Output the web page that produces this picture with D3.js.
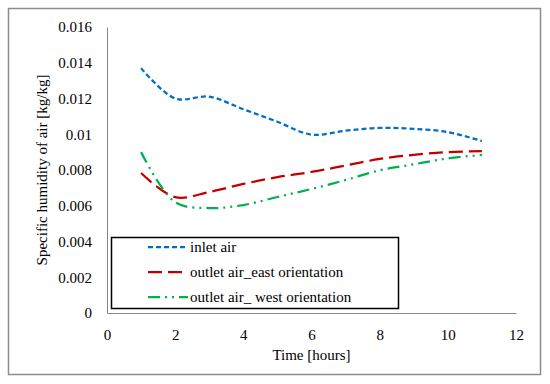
<!DOCTYPE html>
<html>
<head>
<meta charset="utf-8">
<script src="https://cdn.jsdelivr.net/npm/d3@7"></script>
<style>
  body { margin: 0; background: #fff; }
  svg text { font-family: "Liberation Serif", "Times New Roman", Times, "DejaVu Serif", serif !important; fill: #000; }
</style>
</head>
<body>
<div id="chart"></div>
<script>
'use strict'

const hours = [1, 2, 3, 4, 5, 6, 7, 8, 9, 10, 11]
const inletAir = [0.0137, 0.0120, 0.0121, 0.0114, 0.0107, 0.00998, 0.0102, 0.01035, 0.0103, 0.01012, 0.00962]
const outletEast = [0.00783, 0.00648, 0.00677, 0.00722, 0.0076, 0.00789, 0.00825, 0.00862, 0.00885, 0.009, 0.00906]
const outletWest = [0.009, 0.0062, 0.00587, 0.00604, 0.00649, 0.00694, 0.00744, 0.00798, 0.00832, 0.00865, 0.00884]
const xTicks = [0, 2, 4, 6, 8, 10, 12]
const yTicks = [0, 0.002, 0.004, 0.006, 0.008, 0.01, 0.012, 0.014, 0.016]

const seriesList = [
  { name: 'inlet air', values: inletAir, color: '#0070C0', dash: '5,3' },
  { name: 'outlet air_east orientation', values: outletEast, color: '#C00000', dash: '14,6' },
  { name: 'outlet air_ west orientation', values: outletWest, color: '#00B050', dash: '12,5,2,5,2,5' }
]

const width = 550
const height = 384
const margin = { top: 27, bottom: 71, left: 107, right: 34 }
const innerW = width - margin.left - margin.right
const innerH = height - margin.top - margin.bottom
const serif = '"Liberation Serif", "Times New Roman", Times, "DejaVu Serif", serif'

const root = d3.select('#chart')
  .append('svg')
  .attr('width', width)
  .attr('height', height)

// outer frame
root.append('rect')
  .attr('x', 8.5)
  .attr('y', 8.5)
  .attr('width', 532)
  .attr('height', 366)
  .attr('fill', 'none')
  .attr('stroke', '#8c8c8c')
  .attr('stroke-width', 1.5)

const svg = root.append('g')
  .attr('transform', `translate(${margin.left}, ${margin.top})`)

const xScale = d3.scaleLinear().domain([0, 12]).range([0, innerW])
const yScale = d3.scaleLinear().domain([0, 0.016]).range([innerH, 0])

const xAxis = svg.append('g')
  .attr('transform', `translate(0, ${innerH})`)
  .call(d3.axisBottom(xScale).tickValues(xTicks).tickSize(0).tickPadding(16).tickFormat(d3.format('d')))
xAxis.attr('font-family', serif).attr('font-size', 15)
xAxis.select('.domain').attr('stroke', '#868686').attr('stroke-width', 1)

const yAxis = svg.append('g')
  .call(d3.axisLeft(yScale).tickValues(yTicks).tickSize(0).tickPadding(15).tickFormat(d => d === 0 ? '0' : String(+d.toFixed(3))))
yAxis.attr('font-family', serif).attr('font-size', 15)
yAxis.select('.domain').attr('stroke', '#868686').attr('stroke-width', 1)

// axis titles
svg.append('text')
  .attr('x', innerW / 2)
  .attr('y', innerH + 47)
  .attr('text-anchor', 'middle')
  .attr('font-size', 15)
  .text('Time [hours]')

svg.append('text')
  .attr('transform', `translate(${47 - margin.left}, ${innerH / 2}) rotate(-90)`)
  .attr('text-anchor', 'middle')
  .attr('font-size', 15)
  .text('Specific humidity of air [kg/kg]')

const line = d3.line()
  .x(d => xScale(d[0]))
  .y(d => yScale(d[1]))
  .curve(d3.curveCatmullRom)

svg.selectAll('.series')
  .data(seriesList)
  .enter()
  .append('path')
  .attr('class', 'series')
  .attr('d', s => line(hours.map((h, i) => [h, s.values[i]])))
  .attr('fill', 'none')
  .attr('stroke', s => s.color)
  .attr('stroke-width', 2.25)
  .attr('stroke-dasharray', s => s.dash)

// legend
const legend = root.append('g')
legend.append('rect')
  .attr('x', 111.5)
  .attr('y', 237.5)
  .attr('width', 287)
  .attr('height', 71)
  .attr('fill', '#fff')
  .attr('stroke', '#000')
  .attr('stroke-width', 1.5)

const items = legend.selectAll('.item')
  .data(seriesList)
  .enter()
  .append('g')
  .attr('transform', (d, i) => `translate(0, ${247 + i * 25})`)

items.append('line')
  .attr('x1', 148)
  .attr('x2', 188)
  .attr('stroke', d => d.color)
  .attr('stroke-width', 2.25)
  .attr('stroke-dasharray', d => d.dash)

items.append('text')
  .attr('x', 190)
  .attr('dy', '0.33em')
  .attr('font-size', 15)
  .text(d => d.name)
</script>
</body>
</html>
